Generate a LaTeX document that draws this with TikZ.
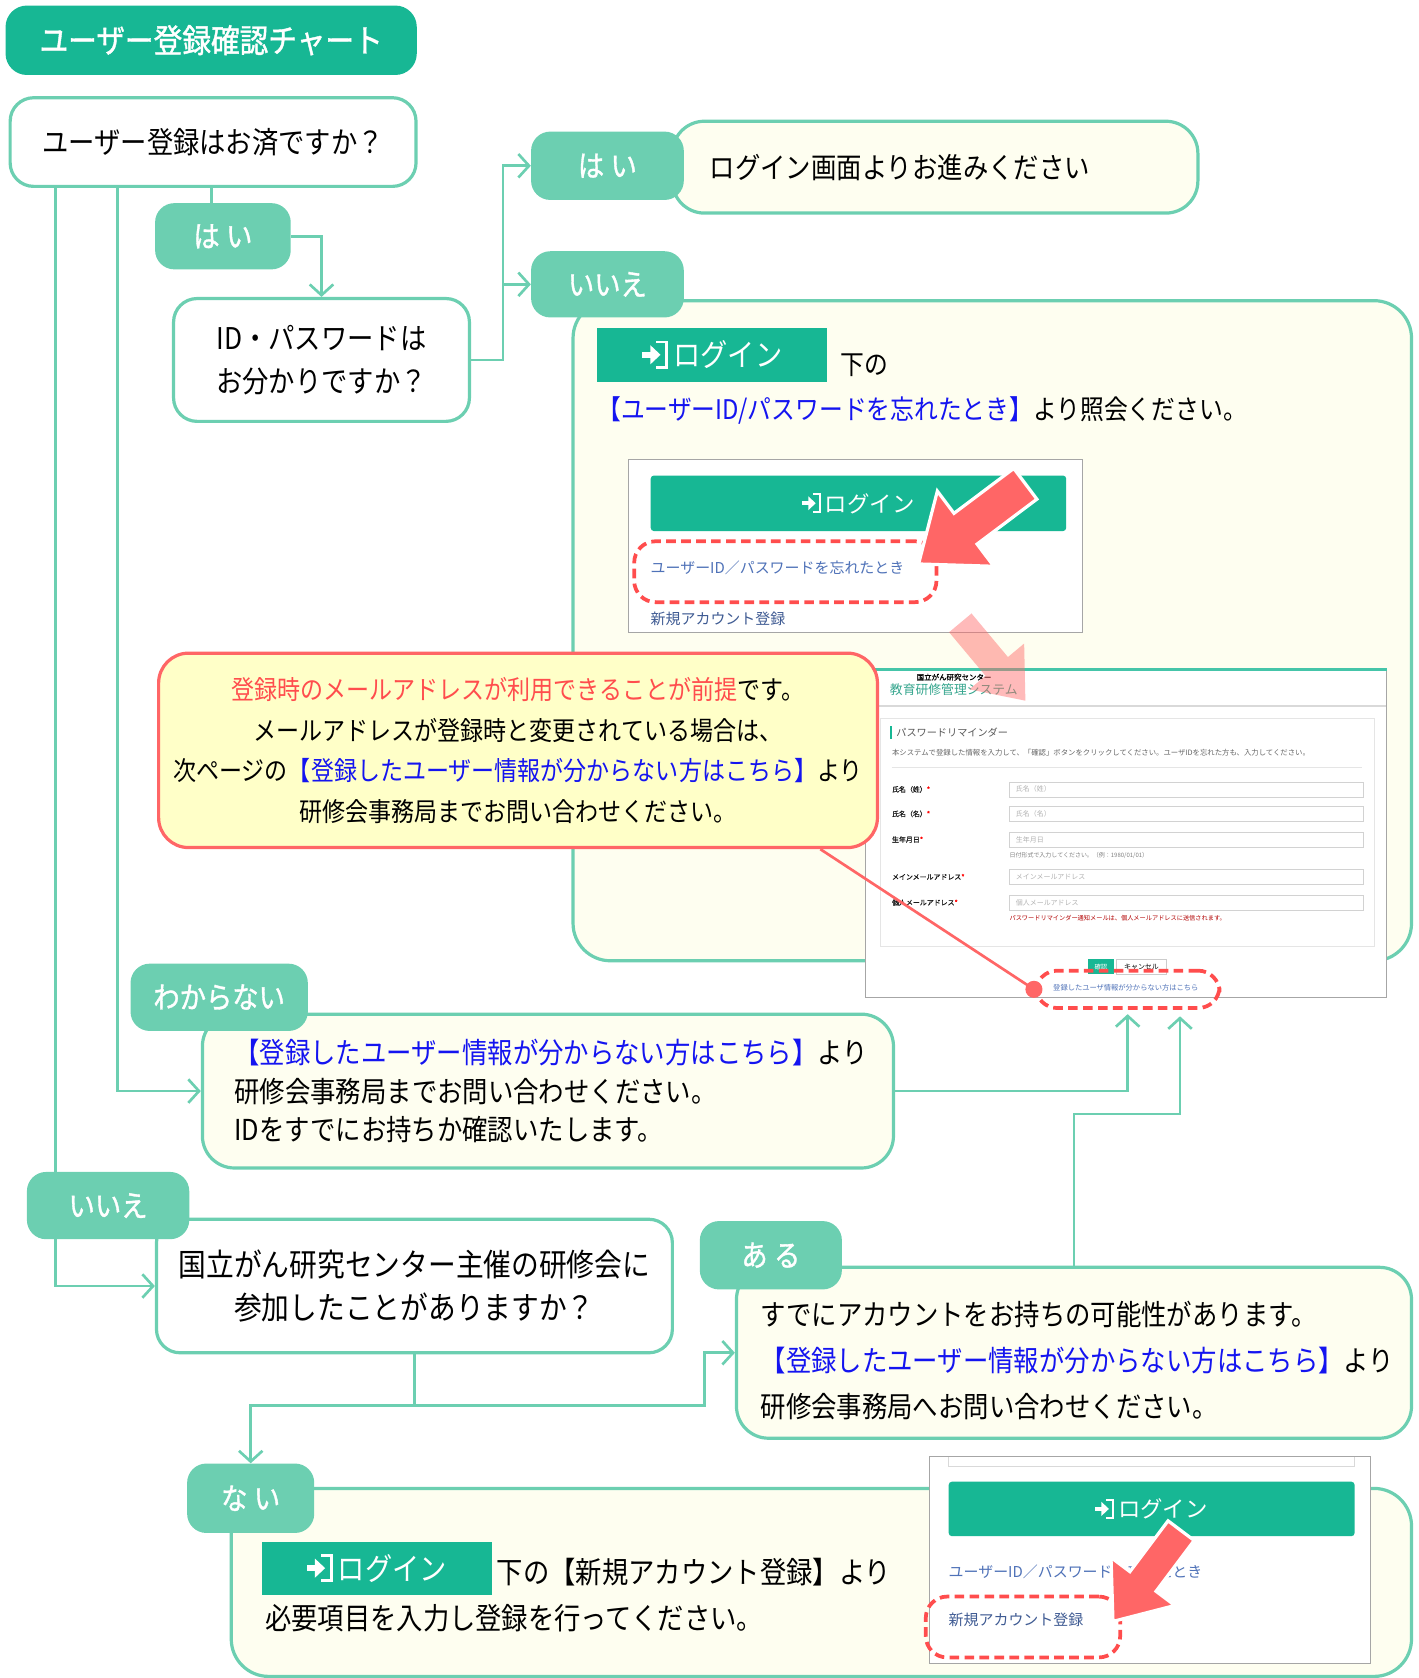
\documentclass[tikz,border=0pt]{standalone}
\usepackage{fontspec}
\setmainfont[FakeStretch=0.88]{Noto Sans CJK JP}
\newfontfamily\tagfont[FakeStretch=0.88,FakeBold=1.2]{Noto Sans CJK JP}
\newfontfamily\shotfont{Noto Sans CJK JP}
\newfontfamily\shotbold[FakeBold=1]{Noto Sans CJK JP}
\usetikzlibrary{arrows.meta,backgrounds}

\definecolor{dteal}{RGB}{23,183,148}
\definecolor{lteal}{RGB}{108,207,177}
\definecolor{cream}{RGB}{254,254,240}
\definecolor{callfill}{RGB}{255,255,200}
\definecolor{callred}{RGB}{255,102,102}
\definecolor{linkblue}{RGB}{20,20,240}
\definecolor{notered}{RGB}{255,77,77}
\definecolor{arrred}{RGB}{255,102,102}
\definecolor{shotblue}{RGB}{79,114,184}

\newcommand\signin{\tikz[baseline=0pt,x=1em,y=1em,line width=0.09em,sharp corners]{%
    \fill[white] (0,0.29) rectangle (0.36,0.49);
    \fill[white] (0.27,0.7) -- (0.6,0.39) -- (0.27,0.08) -- cycle;
    \draw[white] (0.47,0.8) -- (0.8,0.8) -- (0.8,-0.02) -- (0.47,-0.02);}}

\tikzset{
  link/.style={draw=lteal, line width=2.5pt},
  arr/.style={link, -{Straight Barb[length=10pt,width=22pt]}},
  qbox/.style={draw=lteal, line width=3pt, fill=white, rounded corners=22pt,
    anchor=north west, inner sep=0pt},
  abox/.style={qbox, fill=cream, rounded corners=30pt},
  tag/.style={fill=lteal, rounded corners=18pt, text=white, anchor=north west,
    inner sep=0pt, font=\tagfont\fontsize{28}{28}\selectfont},
  btn/.style={fill=dteal, anchor=north west, inner sep=0pt, text=white},
  shot/.style={draw=gray!70, line width=1pt, fill=white, anchor=north west, inner sep=0pt},
  dashbox/.style={draw=notered, line width=3.5pt, dash pattern=on 9pt off 5pt,
    rounded corners=20pt, anchor=north west, inner sep=0pt},
  txt/.style={inner sep=0pt, anchor=west},
  pics/fatarrow/.style={code={
      \path[#1] (0,0) -- (55,-44) -- (55,-18) -- (125,-18) -- (125,18) -- (55,18) -- (55,44) -- cycle;
    }},
}

\begin{document}
\begin{tikzpicture}[x=1pt,y=-1pt]
  \useasboundingbox (0,0) rectangle (1328,1571);

  \node[btn, rounded corners=20pt, minimum width=385pt, minimum height=65pt,
  font=\tagfont\fontsize{30.5}{30}\selectfont] (title) at (5,5) {ユーザー登録確認チャート};

  \node[qbox, minimum width=380pt, minimum height=83pt,
  font=\fontsize{28}{40}\selectfont] (q1) at (8,90) {ユーザー登録はお済ですか？};
  \node[qbox, minimum width=277pt, minimum height=115pt, align=center,
  font=\fontsize{28}{40}\selectfont] (q2) at (161,278) {ID・パスワードは\\お分かりですか？};
  \node[abox, inner xsep=35pt, text width=422pt, minimum height=86pt, align=left,
  font=\fontsize{27}{36}\selectfont] (a1) at (628,112) {ログイン画面よりお進みください};
  \node[abox, rounded corners=35pt, minimum width=785pt, minimum height=618pt] (a2) at (535,280) {};
  \node[qbox, minimum width=483pt, minimum height=125pt, align=center,
  font=\fontsize{29.5}{40}\selectfont] (q3) at (145,1140)
  {国立がん研究センター主催の研修会に\\参加したことがありますか？};
  \node[abox, inner xsep=30pt, text width=587pt, minimum height=144pt, align=left,
  font=\fontsize{27}{36}\selectfont] (a3) at (188,948)
  {{\color{linkblue}【登録したユーザー情報が分からない方はこちら】}より\\
    研修会事務局までお問い合わせください。\\
    IDをすでにお持ちか確認いたします。};
  \node[abox, minimum width=632pt, minimum height=160pt] (a4) at (688,1185) {};
  \node[txt, align=left, font=\fontsize{27}{43}\selectfont] (a4text) at (712,1274)
  {すでにアカウントをお持ちの可能性があります。\\
    {\color{linkblue}【登録したユーザー情報が分からない方はこちら】}より\\
    研修会事務局へお問い合わせください。};
  \node[abox, rounded corners=35pt, minimum width=1105pt, minimum height=176pt] (a5) at (215,1392) {};

  \node[btn, minimum width=215pt, minimum height=50pt,
  font=\fontsize{29}{29}\selectfont] (btn1) at (559,307) {\signin\,ログイン};
  \node[txt, font=\fontsize{25.3}{30}\selectfont] (under1) at (787,342) {下の};
  \node[txt, font=\fontsize{25.3}{30}\selectfont] (forgotline) at (559,384)
  {{\color{linkblue}【ユーザーID/パスワードを忘れたとき】}より照会ください。};

  \node[shot, minimum width=425pt, minimum height=162pt] (shot1) at (588,430) {};
  \node[btn, rounded corners=3pt, minimum width=389pt, minimum height=52pt,
  font=\shotfont\fontsize{21}{21}\selectfont] (btn3) at (609,445) {\signin\,ログイン};
  \node[txt, text=shotblue, font=\shotfont\fontsize{14}{14}\selectfont] (forgot1) at (609,532)
  {ユーザーID／パスワードを忘れたとき};
  \node[dashbox, minimum width=283pt, minimum height=57pt] (dash1) at (592,505) {};
  \node[txt, text=shotblue!80!black, font=\shotfont\fontsize{14}{14}\selectfont] (new1) at (609,579)
  {新規アカウント登録};
  \pic[rotate=36.9] at (860,528) {fatarrow={draw=white, line width=3pt, fill=arrred}};

  \node[shot, minimum width=488pt, minimum height=308pt] (shot2) at (810,625) {};
  \fill[dteal!80] (shot2.north west) rectangle ([yshift=-3pt]shot2.north east);
  \node[txt, font=\shotbold\fontsize{7}{7}\selectfont] (org) at (858,634) {国立がん研究センター};
  \node[txt, text=dteal!70!gray, font=\shotfont\fontsize{12}{12}\selectfont] (sys) at (833,646)
  {教育研修管理システム};
  \draw[gray!30, line width=1.5pt] (810,661) -- (1298,661);
  \node[draw=gray!20, line width=1pt, anchor=north west, inner sep=0pt,
  minimum width=462pt, minimum height=214pt] (panel) at (824,672) {};
  \draw[dteal, line width=1.5pt] (834,680) -- (834,692);
  \node[txt, text=gray!70!black, font=\shotfont\fontsize{9.5}{9.5}\selectfont] (remind) at (839,686)
  {パスワードリマインダー};
  \node[txt, text=gray!80!black, font=\shotfont\fontsize{6.9}{6.9}\selectfont] (desc) at (835,705)
  {本システムで登録した情報を入力して、「確認」ボタンをクリックしてください。ユーザIDを忘れた方も、入力してください。};
  \draw[gray!20] (835,718) -- (1275,718);
  \foreach \y/\lab in {739/氏名（姓）, 762/氏名（名）, 786/生年月日, 821/メインメールアドレス, 845/個人メールアドレス}{
    \node[txt, text=gray!20!black, font=\shotbold\fontsize{6.5}{6.5}\selectfont] (lab\y) at (835,\y)
    {\lab\textcolor{red}{*}};
    \node[draw=gray!35, anchor=west, inner xsep=6pt, inner ysep=0pt, text width=319pt,
    minimum height=14pt, text=gray!60, font=\shotfont\fontsize{6.5}{6.5}\selectfont] (in\y) at (945,\y) {\lab};
  }
  \node[txt, text=gray, font=\shotfont\fontsize{5.6}{5.6}\selectfont] (hint) at (945,801)
  {日付形式で入力してください。（例：1980/01/01）};
  \node[txt, text=red!70!black, font=\shotfont\fontsize{5.8}{5.8}\selectfont] (notice) at (945,860)
  {パスワードリマインダー通知メールは、個人メールアドレスに送信されます。};
  \node[btn, minimum width=25pt, minimum height=14pt, font=\shotfont\fontsize{6}{6}\selectfont] (ok) at (1018,898) {確認};
  \node[draw=gray!40, anchor=north west, inner sep=0pt, minimum width=47pt, minimum height=14pt,
  font=\shotfont\fontsize{6.5}{6.5}\selectfont] (cancel) at (1045,898) {キャンセル};
  \node[text=shotblue, inner sep=0pt, font=\shotfont\fontsize{6.8}{6.8}\selectfont] (lost) at (1054,925)
  {登録したユーザ情報が分からない方はこちら};
  \node[dashbox, minimum width=172pt, minimum height=35pt] (dash2) at (968,907) {};
  \pic[rotate=129.9, scale=0.76] at (960,656) {fatarrow={fill=arrred, opacity=0.45}};

  \node[anchor=north west, draw=callred, line width=3pt, fill=callfill, rounded corners=28pt,
  minimum width=673pt, minimum height=182pt, align=center, inner sep=0pt,
  font=\fontsize{24.5}{38}\selectfont] (callout) at (147,610)
  {{\color{notered}登録時のメールアドレスが利用できることが前提}です。\\
    メールアドレスが登録時と変更されている場合は、\\
    次ページの{\color{linkblue}【登録したユーザー情報が分からない方はこちら】}より\\
    研修会事務局までお問い合わせください。};
  \draw[callred, line width=2.5pt] ([xshift=-55pt]callout.south east) -- (dash2.west);
  \fill[callred] (dash2.west) circle (8pt);

  \node[btn, minimum width=215pt, minimum height=50pt,
  font=\fontsize{29}{29}\selectfont] (btn2) at (245,1443) {\signin\,ログイン};
  \node[txt, font=\fontsize{28}{30}\selectfont] (newline) at (465,1472) {下の【新規アカウント登録】より};
  \node[txt, font=\fontsize{28}{30}\selectfont] (inputline) at (248,1515) {必要項目を入力し登録を行ってください。};

  \node[shot, minimum width=413pt, minimum height=194pt] (shot3) at (870,1363) {};
  \draw[gray!30] (888,1364) -- (888,1373) -- (1268,1373) -- (1268,1364);
  \node[btn, rounded corners=3pt, minimum width=380pt, minimum height=51pt,
  font=\shotfont\fontsize{21}{21}\selectfont] (btn4) at (888,1387) {\signin\,ログイン};
  \node[txt, text=shotblue, font=\shotfont\fontsize{14}{14}\selectfont] (forgot2) at (888,1472)
  {ユーザーID／パスワードを忘れたとき};
  \node[txt, text=shotblue!80!black, font=\shotfont\fontsize{14}{14}\selectfont] (new2) at (888,1517)
  {新規アカウント登録};
  \node[dashbox, minimum width=182pt, minimum height=57pt] (dash3) at (865,1493) {};
  \pic[rotate=53.1, scale=0.85] at (1042,1518) {fatarrow={draw=white, line width=3pt, fill=arrred}};

  \node[tag, minimum width=127pt, minimum height=62pt] (hai1) at (145,190) {は\hspace{6pt}い};
  \node[tag, minimum width=143pt, minimum height=64pt] (hai2) at (497,123) {は\hspace{6pt}い};
  \node[tag, minimum width=143pt, minimum height=62pt] (iie2) at (497,235) {いいえ};
  \node[tag, minimum width=166pt, minimum height=63pt] (wakaranai) at (122,902) {わからない};
  \node[tag, minimum width=152pt, minimum height=63pt] (iie3) at (25,1097) {いいえ};
  \node[tag, minimum width=133pt, minimum height=64pt] (aru) at (655,1143) {あ\hspace{6pt}る};
  \node[tag, minimum width=119pt, minimum height=65pt] (nai) at (175,1370) {な\hspace{6pt}い};

  \begin{scope}[on background layer]
    \draw[arr] ([xshift=44pt]q1.south west) |- (q3.west);
    \draw[arr] ([xshift=102pt]q1.south west) |- (a3.west);
    \draw[link] ([xshift=53pt]hai1.north west) -- ([xshift=53pt]hai1.north west |- q1.south);
    \draw[arr] (hai1.east) -| (q2.north);
    \draw[arr] (q2.east) -- ++(30,0) |- (hai2.west);
    \draw[arr] (q2.east) -- ++(30,0) |- (iie2.west);
    \draw[arr, shorten >=4pt] (a3.east) -| (dash2.south);
    \draw[arr, shorten >=6pt] (a4.north) -- ++(0,-142) -| ([xshift=49pt]dash2.south);
    \draw[arr] (q3.south) -- ++(0,48) -| (nai.north);
    \draw[arr] (q3.south) -- ++(0,48) -- ++(271.5,0) |- (a4.west);
  \end{scope}
\end{tikzpicture}
\end{document}
